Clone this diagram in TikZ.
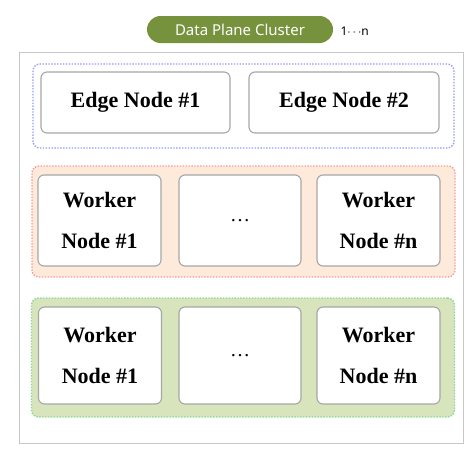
\documentclass[tikz,border=0pt]{standalone}
\usepackage{fontspec}
\setmainfont{Liberation Serif}
\newfontfamily\titlefont{Noto Sans}
\usepackage{xcolor}
\definecolor{olive}{RGB}{118,146,60}
\definecolor{boxline}{RGB}{166,166,166}
\definecolor{edgeline}{RGB}{150,150,255}
\definecolor{redline}{RGB}{255,150,150}
\definecolor{redfill}{RGB}{253,234,218}
\definecolor{greenline}{RGB}{140,215,150}
\definecolor{greenfill}{RGB}{216,228,188}

\begin{document}
\begin{tikzpicture}[x=1pt, y=-1pt,
  nodebox/.style={rectangle, rounded corners=6pt, draw=boxline, line width=1.1pt, fill=white, font=\fontsize{22}{41}\selectfont\bfseries, align=center, inner sep=0pt},
  group/.style={rectangle, rounded corners=7pt, dash pattern=on 1.4pt off 1.5pt, line width=1.4pt, inner sep=0pt},
  pill/.style={rectangle, rounded corners=13.5pt, fill=olive, text=white, font=\titlefont\fontsize{15}{18}\selectfont, minimum width=186pt, minimum height=27pt}
]
\useasboundingbox (0,0) rectangle (476,455);
\node[pill] (title) at (240,29.5) {Data Plane Cluster};
\node[font=\titlefont\fontsize{12}{14}\selectfont, anchor=west] (count) at (337,31) {1$\cdots$n};
\node[rectangle, draw=black!22, line width=1pt, fill=white, minimum width=444pt, minimum height=391pt] (cluster) at (241,247.5) {};

% edge nodes
\node[group, draw=edgeline, minimum width=421pt, minimum height=84pt] (edgegroup) at (243.5,106) {};
\node[nodebox, minimum width=189pt, minimum height=61pt] (edge1) at (135.5,102.5) {Edge Node \#1};
\node[nodebox, minimum width=190pt, minimum height=61pt] (edge2) at (344,102.5) {Edge Node \#2};

% worker nodes, first set
\node[group, draw=redline, fill=redfill, minimum width=423pt, minimum height=111pt] (workers1) at (243.5,221.5) {};
\node[nodebox, minimum width=123pt, minimum height=91pt] (w1first) at (99.5,220.5) {Worker\\Node \#1};
\node[nodebox, minimum width=122pt, minimum height=91pt, font=\fontsize{20}{24}\selectfont] (w1dots) at (240,220.5) {\dots};
\node[nodebox, minimum width=123pt, minimum height=91pt] (w1last) at (378.5,220.5) {Worker\\Node \#n};

% worker nodes, second set
\node[group, draw=greenline, fill=greenfill, minimum width=423pt, minimum height=119pt] (workers2) at (243,357.5) {};
\node[nodebox, minimum width=123pt, minimum height=97pt] (w2first) at (100,355.5) {Worker\\Node \#1};
\node[nodebox, minimum width=122pt, minimum height=97pt, font=\fontsize{20}{24}\selectfont] (w2dots) at (240,355.5) {\dots};
\node[nodebox, minimum width=123pt, minimum height=97pt] (w2last) at (378.5,355.5) {Worker\\Node \#n};
\end{tikzpicture}
\end{document}
